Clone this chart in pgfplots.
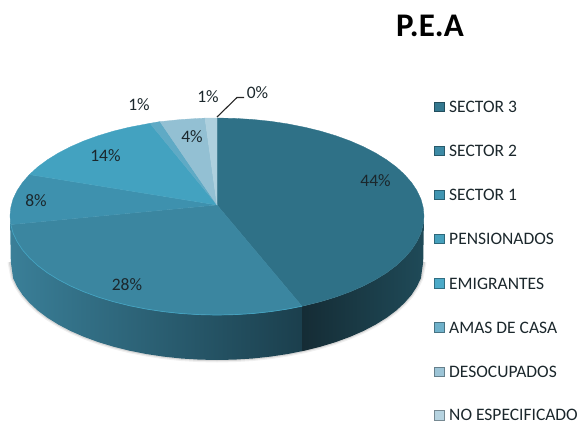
\documentclass[border=0pt]{standalone}
\usepackage{fontspec}
\setmainfont{Carlito}
\usepackage{pgfplots}
\pgfplotsset{compat=1.18}
\definecolor{cA}{HTML}{2F7187}
\definecolor{cB}{HTML}{3B86A0}
\definecolor{cC}{HTML}{3E91AE}
\definecolor{cD}{HTML}{43A2C0}
\definecolor{cE}{HTML}{5FAAC5}
\definecolor{cF}{HTML}{93C0D3}
\definecolor{cG}{HTML}{AED0DE}
\definecolor{kA}{HTML}{34788F}
\definecolor{kB}{HTML}{3D8AA5}
\definecolor{kC}{HTML}{4095B2}
\definecolor{kD}{HTML}{46A0BC}
\definecolor{kE}{HTML}{4CAAC8}
\definecolor{kF}{HTML}{6FB1CA}
\definecolor{kG}{HTML}{9CC4D6}
\definecolor{kH}{HTML}{B6D3E0}
\definecolor{sideA}{HTML}{3A7F98}
\definecolor{sideB}{HTML}{27586B}
\definecolor{sideC}{HTML}{1B3F4D}
\definecolor{sideD}{HTML}{152C35}
\definecolor{sideE}{HTML}{1F4A58}
\definecolor{txt}{HTML}{1B272C}
\tikzset{lab/.style={font=\fontsize{17.5}{20}\selectfont, text=txt, inner sep=0pt}}
\pgfplotsset{key/.style={only marks, mark=square*, mark size=4.7pt, mark options={draw=#1!65!black, fill=#1, line width=.8pt}}}
\begin{document}
\begin{tikzpicture}
\useasboundingbox (0,0) rectangle (582pt,423pt);
\begin{axis}[
  at={(0,0)}, anchor=south west,
  scale only axis, width=582pt, height=423pt,
  xmin=0, xmax=582, ymin=0, ymax=423, y dir=reverse,
  axis lines=none, clip=true
]
% soft shadow under the side wall
\addplot[draw=gray, line width=5pt, opacity=.12] coordinates {(10,262)(13.1,278.2)(17.1,286.6)(22.5,294.9)(29.4,302.8)(37.7,310.5)(47.4,317.8)(58.4,324.6)(70.6,331)(83.9,336.8)(98.3,342.1)(113.5,346.7)(129.5,350.7)(146.2,354)(163.4,356.6)(181.1,358.5)(199,359.6)(217,360)(235,359.6)(252.9,358.5)(270.6,356.6)(287.8,354)(304.5,350.7)(320.5,346.7)(335.7,342.1)(350.1,336.8)(363.4,331)(375.6,324.6)(386.6,317.8)(396.3,310.5)(404.6,302.8)(411.5,294.9)(416.9,286.6)(420.9,278.2)(424,262)};
\addplot[draw=gray, line width=2.5pt, opacity=.22] coordinates {(10,262)(13.1,278.2)(17.1,286.6)(22.5,294.9)(29.4,302.8)(37.7,310.5)(47.4,317.8)(58.4,324.6)(70.6,331)(83.9,336.8)(98.3,342.1)(113.5,346.7)(129.5,350.7)(146.2,354)(163.4,356.6)(181.1,358.5)(199,359.6)(217,360)(235,359.6)(252.9,358.5)(270.6,356.6)(287.8,354)(304.5,350.7)(320.5,346.7)(335.7,342.1)(350.1,336.8)(363.4,331)(375.6,324.6)(386.6,317.8)(396.3,310.5)(404.6,302.8)(411.5,294.9)(416.9,286.6)(420.9,278.2)(424,262)};
% side wall, left part (SECTOR 2)
\addplot[draw=none, left color=sideA, middle color=sideB, right color=sideC] coordinates {(10,216)(10.8,224.6)(13.1,233.2)(17.1,241.6)(22.5,249.9)(29.4,257.8)(37.7,265.5)(47.4,272.8)(58.4,279.6)(70.6,286)(83.9,291.8)(98.3,297.1)(113.5,301.7)(129.5,305.7)(146.2,309)(163.4,311.6)(181.1,313.5)(199,314.6)(217,315)(235,314.6)(252.9,313.5)(270.6,311.6)(287.8,309)(302,306.2)(302,351.2)(287.8,354)(270.6,356.6)(252.9,358.5)(235,359.6)(217,360)(199,359.6)(181.1,358.5)(163.4,356.6)(146.2,354)(129.5,350.7)(113.5,346.7)(98.3,342.1)(83.9,336.8)(70.6,331)(58.4,324.6)(47.4,317.8)(37.7,310.5)(29.4,302.8)(22.5,294.9)(17.1,286.6)(13.1,278.2)(10.8,262)} --cycle;
% side wall, right part (SECTOR 3)
\addplot[draw=none, left color=sideD, middle color=sideD, right color=sideE] coordinates {(302,306.2)(304.5,305.7)(320.5,301.7)(335.7,297.1)(350.1,291.8)(363.4,286)(375.6,279.6)(386.6,272.8)(396.3,265.5)(404.6,257.8)(411.5,249.9)(416.9,241.6)(420.9,233.2)(423.2,224.6)(424,216)(423.2,262)(420.9,278.2)(416.9,286.6)(411.5,294.9)(404.6,302.8)(396.3,310.5)(386.6,317.8)(375.6,324.6)(363.4,331)(350.1,336.8)(335.7,342.1)(320.5,346.7)(304.5,350.7)(302,351.2)} --cycle;
% top: slices
\addplot[draw=cA, line width=.3pt, fill=cA] coordinates {(217,205)(217,118)(235,118.4)(252.9,119.5)(270.6,121.3)(287.8,123.9)(304.5,127.2)(320.5,131.1)(335.7,135.7)(350.1,140.9)(363.4,146.7)(375.6,153)(386.6,159.8)(396.3,167)(404.6,174.6)(411.5,182.5)(416.9,190.6)(420.9,199)(423.2,207.5)(424,216)(423.2,224.6)(420.9,233.2)(416.9,241.6)(411.5,249.9)(404.6,257.8)(396.3,265.5)(386.6,272.8)(375.6,279.6)(363.4,286)(350.1,291.8)(335.7,297.1)(320.5,301.7)(304.5,305.7)(302,306.2)} --cycle;
\addplot[draw=cB, line width=.3pt, fill=cB] coordinates {(217,205)(302,306.2)(287.8,309)(270.6,311.6)(252.9,313.5)(235,314.6)(217,315)(199,314.6)(181.1,313.5)(163.4,311.6)(146.2,309)(129.5,305.7)(113.5,301.7)(98.3,297.1)(83.9,291.8)(70.6,286)(58.4,279.6)(47.4,272.8)(37.7,265.5)(29.4,257.8)(22.5,249.9)(17.1,241.6)(13.1,233.2)(10.8,224.6)} --cycle;
\addplot[draw=cC, line width=.3pt, fill=cC] coordinates {(217,205)(10.8,224.6)(10,216)(10.8,207.5)(13.1,199)(17.1,190.6)(22.5,182.5)(29.4,174.6)} --cycle;
\addplot[draw=cD, line width=.3pt, fill=cD] coordinates {(217,205)(29.4,174.6)(37.7,167)(47.4,159.8)(58.4,153)(70.6,146.7)(83.9,140.9)(98.3,135.7)(113.5,131.1)(129.5,127.2)(150,123.3)} --cycle;
\addplot[draw=cE, line width=.3pt, fill=cE] coordinates {(217,205)(150,123.3)(160,121.6)} --cycle;
\addplot[draw=cF, line width=.3pt, fill=cF] coordinates {(217,205)(160,121.6)(163.4,121.3)(181.1,119.5)(199,118.4)(205,118.1)} --cycle;
\addplot[draw=cG, line width=.3pt, fill=cG] coordinates {(217,205)(205,118.1)(217,118)} --cycle;
% rim highlight
\addplot[draw=cD, line width=.7pt] coordinates {(10.8,224.6)(13.1,233.2)(17.1,241.6)(22.5,249.9)(29.4,257.8)(37.7,265.5)(47.4,272.8)(58.4,279.6)(70.6,286)(83.9,291.8)(98.3,297.1)(113.5,301.7)(129.5,305.7)(146.2,309)(163.4,311.6)(181.1,313.5)(199,314.6)(217,315)(235,314.6)(252.9,313.5)(270.6,311.6)(287.8,309)(302,306.2)};
% leader line for 0%
\addplot[draw=black!85, line width=1.1pt] coordinates {(217,117)(237,97.5)(244,97.5)};
% value labels
\node[lab] at (axis cs:375.5,181) {44\%};
\node[lab] at (axis cs:127,285) {28\%};
\node[lab] at (axis cs:36,201) {8\%};
\node[lab] at (axis cs:105.5,155.5) {14\%};
\node[lab] at (axis cs:192,136.5) {4\%};
\node[lab] at (axis cs:139,105) {1\%};
\node[lab] at (axis cs:208,97) {1\%};
\node[lab] at (axis cs:257.5,93) {0\%};
% legend keys
\addplot[key=kA] coordinates {(439.5,107)};
\addplot[key=kB] coordinates {(439.5,151)};
\addplot[key=kC] coordinates {(439.5,195)};
\addplot[key=kD] coordinates {(439.5,239)};
\addplot[key=kE] coordinates {(439.5,283.5)};
\addplot[key=kF] coordinates {(439.5,327.5)};
\addplot[key=kG] coordinates {(439.5,372)};
\addplot[key=kH] coordinates {(439.5,415.5)};
% legend text
\node[lab,anchor=west] at (axis cs:449,107) {SECTOR 3};
\node[lab,anchor=west] at (axis cs:449,151) {SECTOR 2};
\node[lab,anchor=west] at (axis cs:449,195) {SECTOR 1};
\node[lab,anchor=west] at (axis cs:449,239) {PENSIONADOS};
\node[lab,anchor=west] at (axis cs:449,283.5) {EMIGRANTES};
\node[lab,anchor=west] at (axis cs:449,327.5) {AMAS DE CASA};
\node[lab,anchor=west] at (axis cs:449,372) {DESOCUPADOS};
\node[lab,anchor=west] at (axis cs:449,414.5) {NO ESPECIFICADO};
% title
\node[font=\fontsize{33}{36}\selectfont\bfseries, text=black, inner sep=0pt] at (axis cs:430,26) {P.E.A};
\end{axis}
\end{tikzpicture}
\end{document}
